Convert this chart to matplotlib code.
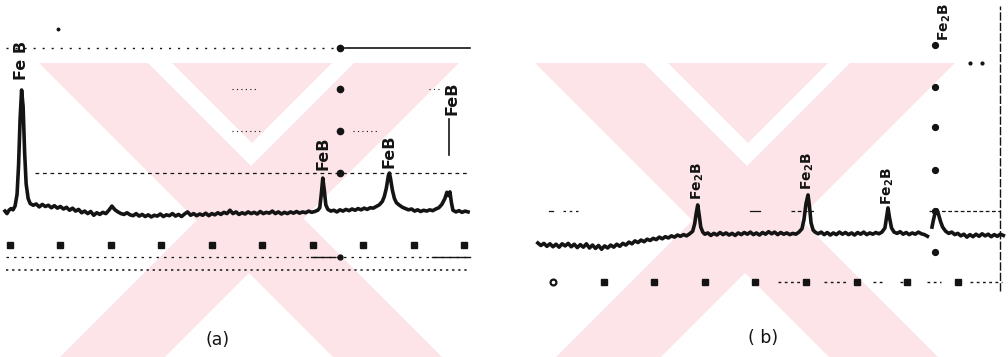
import numpy as np
import matplotlib.pyplot as plt
from matplotlib.patches import Polygon

# ---------------- pattern (a): FeB layer ----------------
two_theta_a = [
    19.5, 19.7, 19.9, 20.1, 20.3, 20.5, 20.7, 20.85, 21.0, 21.15, 21.3, 21.45, 21.6, 21.8,
    22.0, 22.3, 22.6, 22.9, 23.2, 23.5, 23.8, 24.1, 24.4, 24.7, 25.0, 25.3, 25.6, 25.9,
    26.2, 26.5, 26.8, 27.1, 27.4, 27.7, 28.0, 28.3, 28.6, 28.9, 29.2, 29.5, 29.8, 30.1,
    30.4, 30.7, 31.0, 31.3, 31.6, 31.9, 32.2, 32.5, 32.8, 33.1, 33.4, 33.7, 34.0, 34.3,
    34.6, 34.9, 35.2, 35.5, 35.8, 36.1, 36.4, 36.7, 37.0, 37.3, 37.6, 37.9, 38.2, 38.5,
    38.8, 39.1, 39.4, 39.7, 40.0, 40.3, 40.6, 40.9, 41.2, 41.5, 41.8, 42.1, 42.4, 42.7,
    43.0, 43.3, 43.6, 43.9, 44.2, 44.5, 44.8, 45.1, 45.4, 45.7, 46.0, 46.3, 46.6, 46.9,
    47.2, 47.5, 47.8, 48.1, 48.4, 48.7, 49.0, 49.3, 49.6, 49.9, 50.2, 50.5, 50.7, 50.85,
    51.0, 51.15, 51.3, 51.5, 51.8, 52.1, 52.4, 52.7, 53.0, 53.3, 53.6, 53.9, 54.2, 54.5,
    54.8, 55.1, 55.4, 55.7, 56.0, 56.3, 56.6, 56.9, 57.1, 57.3, 57.5, 57.6, 57.7, 57.9,
    58.1, 58.3, 58.6, 58.9, 59.2, 59.5, 59.8, 60.1, 60.4, 60.7, 61.0, 61.3, 61.6, 61.9,
    62.2, 62.5, 62.8, 63.1, 63.3, 63.45, 63.6, 63.75, 63.9, 64.2, 64.5, 64.8, 65.1, 65.4,
]
counts_a = [
    110, 104, 112, 116, 113, 122, 150, 220, 330, 400, 360, 250, 175, 140,
    128, 124, 127, 120, 126, 121, 124, 118, 123, 117, 121, 115, 119, 112,
    117, 110, 114, 106, 110, 104, 109, 100, 106, 102, 107, 104, 112, 122,
    113, 108, 104, 102, 106, 101, 99, 104, 98, 102, 97, 101, 96, 100,
    98, 103, 97, 101, 99, 104, 98, 102, 97, 103, 108, 100, 104, 99,
    103, 100, 105, 99, 104, 101, 106, 102, 107, 104, 112, 104, 108, 102,
    106, 103, 108, 104, 107, 103, 109, 104, 107, 105, 110, 104, 108, 103,
    107, 104, 108, 105, 109, 105, 108, 106, 110, 107, 109, 112, 118, 150,
    189, 160, 125, 114, 110, 112, 108, 113, 110, 114, 111, 115, 112, 116,
    113, 117, 114, 118, 117, 121, 125, 133, 145, 165, 195, 201, 190, 160,
    140, 130, 124, 119, 116, 113, 115, 110, 113, 109, 112, 110, 113, 111,
    115, 118, 126, 140, 155, 147, 156, 130, 112, 108, 111, 107, 110, 108,
]
peak_pos_a = [21.15, 51.0, 57.6, 63.6]
peak_cts_a = [400, 189, 201, 156]
peak_lbl_a = ["Fe B", "FeB", "FeB", "FeB"]
ticks_a = [20, 25, 30, 35, 40, 45, 50, 55, 60, 65]

# ---------------- pattern (b): Fe2B layer ----------------
two_theta_b = [
    18.5, 18.8, 19.1, 19.4, 19.7, 20.0, 20.3, 20.6, 20.9, 21.2, 21.5, 21.8, 22.1, 22.4,
    22.7, 23.0, 23.3, 23.6, 23.9, 24.2, 24.5, 24.8, 25.1, 25.4, 25.7, 26.0, 26.3, 26.6,
    26.9, 27.2, 27.5, 27.8, 28.1, 28.4, 28.7, 29.0, 29.3, 29.6, 29.9, 30.2, 30.5, 30.8,
    31.1, 31.4, 31.7, 32.0, 32.3, 32.6, 32.9, 33.2, 33.5, 33.8, 34.0, 34.15, 34.3, 34.45,
    34.6, 34.8, 35.0, 35.3, 35.6, 35.9, 36.2, 36.5, 36.8, 37.1, 37.4, 37.7, 38.0, 38.3,
    38.6, 38.9, 39.2, 39.5, 39.8, 40.1, 40.4, 40.7, 41.0, 41.3, 41.6, 41.9, 42.2, 42.5,
    42.8, 43.1, 43.4, 43.7, 44.0, 44.3, 44.6, 44.8, 45.0, 45.2, 45.35, 45.5, 45.7, 45.9,
    46.2, 46.5, 46.8, 47.1, 47.4, 47.7, 48.0, 48.3, 48.6, 48.9, 49.2, 49.5, 49.8, 50.1,
    50.4, 50.7, 51.0, 51.3, 51.6, 51.9, 52.2, 52.5, 52.8, 53.0, 53.1, 53.25, 53.45, 53.7,
    54.0, 54.3, 54.6, 54.9, 55.2, 55.5, 55.8, 56.1, 56.4, 56.7, 57.0, 57.2, 57.45, 57.6,
    57.8, 57.95, 58.1, 58.3, 58.5, 58.8, 59.1, 59.4, 59.7, 60.0, 60.3, 60.6, 60.9, 61.2,
    61.5, 61.8, 62.1, 62.4, 62.7, 63.0, 63.3, 63.6, 63.9, 64.2, 64.5,
]
counts_b = [
    24, 18, 23, 16, 22, 15, 21, 14, 22, 17, 23, 15, 21, 13,
    20, 14, 22, 12, 19, 11, 18, 9, 17, 12, 19, 14, 21, 16,
    23, 19, 26, 22, 29, 25, 31, 27, 33, 30, 35, 32, 38, 34,
    39, 36, 41, 38, 43, 40, 44, 41, 46, 52, 70, 95, 115, 90,
    62, 50, 45, 48, 42, 47, 43, 49, 44, 48, 43, 47, 42, 48,
    44, 49, 45, 50, 44, 48, 43, 49, 45, 51, 46, 50, 44, 49,
    45, 48, 44, 47, 45, 50, 58, 80, 118, 139, 110, 72, 55, 50,
    46, 50, 44, 49, 43, 48, 44, 50, 45, 49, 44, 48, 43, 49,
    45, 50, 44, 48, 45, 49, 46, 50, 60, 92, 108, 85, 60, 50,
    47, 51, 45, 49, 44, 48, 45, 50, 46, 44, 40, np.nan, 62, 80,
    100, 103, 92, 75, 62, 52, 47, 50, 44, 47, 41, 45, 38, 44,
    39, 45, 40, 46, 41, 45, 39, 44, 40, 45, 42,
]
peak_pos_b = [34.3, 45.2, 53.1, 57.95]
peak_cts_b = [115, 139, 108, 103]
label_fe2b = r"$\mathbf{Fe_2B}$"
ticks_b = [20, 25, 30, 35, 40, 45, 50, 55, 60]

INK = "#141414"
PINK = "#fce4e8"

fig = plt.figure(figsize=(10.08, 3.57), dpi=100)
fig.patch.set_facecolor("white")

# light diagonal background print, in pixel units of the sheet
bg = fig.add_axes([0, 0, 1, 1], zorder=0)
bg.set_xlim(0, 1008)
bg.set_ylim(357, 0)
bg.axis("off")

TOP, BOTTOM = 63, 357


def arm(x0, x1, direction):
    shift = direction * (BOTTOM - TOP)
    return Polygon([(x0, TOP), (x1, TOP), (x1 + shift, BOTTOM), (x0 + shift, BOTTOM)],
                   closed=True, facecolor=PINK, edgecolor="none")


def wedge(x0, x1):
    return Polygon([(x0, TOP), (x1, TOP), ((x0 + x1) / 2, TOP + (x1 - x0) / 2)],
                   closed=True, facecolor=PINK, edgecolor="none")


for left in (39, 535):
    bg.add_patch(arm(left, left + 109, +1))
    bg.add_patch(wedge(left + 133, left + 293))
    bg.add_patch(arm(left + 315, left + 420, -1))

# ---------------- panel (a) ----------------
axA = fig.add_axes([0, 0, 0.5, 1], zorder=1)
axA.set_xlim(19.009, 68.96)
axA.set_ylim(-239.5, 615.6)
axA.axis("off")
axA.patch.set_alpha(0)

axA.plot(two_theta_a, counts_a, color=INK, lw=2.6, solid_joinstyle="round")

# chart-paper grid remnants
axA.plot([19.6, 52.4], [500, 500], color=INK, lw=1.0, ls=(0, (1.5, 5)))
axA.plot([53.2, 65.6], [500, 500], color=INK, lw=1.2)
axA.plot([22.5, 65.6], [201, 201], color=INK, lw=0.9, ls=(0, (3, 3)))
axA.plot([42.0, 44.5], [402, 402], color=INK, lw=0.8, ls=(0, (1, 3)))
axA.plot([61.5, 62.7], [402, 402], color=INK, lw=0.8, ls=(0, (1, 3)))
axA.plot([42.0, 45.0], [302, 302], color=INK, lw=0.8, ls=(0, (1, 3)))
axA.plot([54.0, 56.5], [302, 302], color=INK, lw=0.8, ls=(0, (1, 3)))
axA.plot([52.7] * 4, [500, 402, 302, 201], "o", color=INK, ms=4.5)
axA.plot([24.8], [546], "o", color=INK, ms=1.8)

# leader for the high-angle reflection
axA.plot([63.5, 63.5], [245, 330], color=INK, lw=1.2)

# angle markers and recorder lines below the trace
axA.plot(ticks_a, [29] * len(ticks_a), "s", color=INK, ms=4.2)
axA.plot([19.6, 65.6], [0, 0], color=INK, lw=0.9, ls=(0, (2, 4)))
axA.plot([49.8, 52.2], [0, 0], color=INK, lw=1.0)
axA.plot([61.8, 65.6], [0, 0], color=INK, lw=1.0)
axA.plot([52.7], [0], "o", color=INK, ms=3.5)
axA.plot([19.6, 65.6], [-31, -31], color=INK, lw=1.1, ls=(0, (1.5, 2.5)))

for pos, cts, lbl, off in zip(peak_pos_a, peak_cts_a, peak_lbl_a, [24, 19, 12, 184]):
    axA.text(pos + (0.2 if pos > 63 else 0), cts + off, lbl,
             rotation=90, ha="center", va="bottom", fontsize=11.5,
             fontweight="bold", color=INK)

# ---------------- panel (b) ----------------
axB = fig.add_axes([0.5, 0, 0.5, 1], zorder=1)
axB.set_xlim(15.158, 64.96)
axB.set_ylim(-248.8, 605.3)
axB.axis("off")
axB.patch.set_alpha(0)

axB.plot(two_theta_b, counts_b, color=INK, lw=2.6, solid_joinstyle="round")

axB.plot([57.75] * 6, [498, 397, 301, 199, 100, 2], "o", color=INK, ms=4.2)
axB.plot([57.2, 64.2], [100, 100], color=INK, lw=0.9, ls=(0, (3, 2)))
axB.plot([39.5, 40.5], [100, 100], color=INK, lw=0.9)
axB.plot([43.5, 45.8], [100, 100], color=INK, lw=0.9, ls=(0, (3, 2)))
axB.plot([19.6, 20.0], [100, 100], color=INK, lw=0.9)
axB.plot([21.0, 22.5], [100, 100], color=INK, lw=0.9, ls=(0, (2, 3)))
axB.plot([64.17, 64.17], [-90, 590], color=INK, lw=1.0, ls=(0, (6, 1.5)))
axB.plot([61.2, 62.4], [455, 455], "o", color=INK, ms=2)

axB.plot(ticks_b[:1], [-69], "o", color=INK, ms=4.2, mfc="white", mew=1.6)
axB.plot(ticks_b[1:], [-69] * (len(ticks_b) - 1), "s", color=INK, ms=4.2)
for x0, x1 in [(42.2, 44.6), (46.8, 49.0), (51.6, 52.8), (54.3, 55.2),
               (57.0, 58.3), (61.2, 64.4)]:
    axB.plot([x0, x1], [-69, -69], color=INK, lw=1.0, ls=(0, (2, 2.5)))

for pos, cts, off in zip(peak_pos_b, peak_cts_b, [12, 12, 7, 405]):
    axB.text(pos + (0.8 if off > 100 else 0), cts + off, label_fe2b,
             rotation=90, ha="center", va="bottom", fontsize=10, color=INK)

fig.text(218 / 1008, 1 - 340 / 357, "(a)", ha="center", va="center",
         fontsize=12.5, color=INK)
fig.text(763 / 1008, 1 - 338 / 357, "( b)", ha="center", va="center",
         fontsize=12.5, color=INK)

fig.savefig("out.png", dpi=100, facecolor="white")
